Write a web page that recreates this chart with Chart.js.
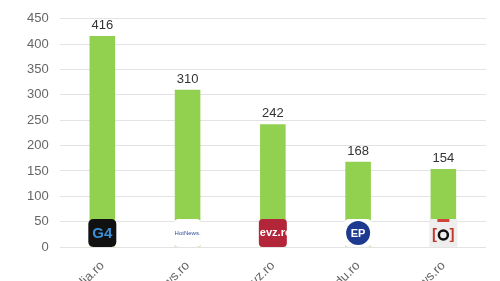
<!DOCTYPE html>
<html>
<head>
<meta charset="utf-8">
<script src="https://cdn.jsdelivr.net/npm/chart.js@4/dist/chart.umd.min.js"></script>
<style>
  html, body { margin: 0; padding: 0; background: #fff; overflow: hidden; }
  #wrap { width: 500px; height: 281px; position: relative; }
</style>
</head>
<body>
<div id="wrap"><canvas id="chart"></canvas></div>
<script>
var sites = ['g4media.ro', 'hotnews.ro', 'evz.ro', 'edupedu.ro', 'observatornews.ro'];
var counts = [416, 310, 242, 168, 154];
var yTicks = [0, 50, 100, 150, 200, 250, 300, 350, 400, 450];

function roundRect(ctx, x, y, w, h, r) {
    ctx.beginPath();
    ctx.moveTo(x + r, y);
    ctx.arcTo(x + w, y, x + w, y + h, r);
    ctx.arcTo(x + w, y + h, x, y + h, r);
    ctx.arcTo(x, y + h, x, y, r);
    ctx.arcTo(x, y, x + w, y, r);
    ctx.closePath();
}

// small drawn stand-ins for the site logos
var logoDrawers = [
    function (ctx, x, y, s) {
        ctx.fillStyle = '#111';
        roundRect(ctx, x, y, s, s, 5); ctx.fill();
        ctx.fillStyle = '#3a8fd8';
        ctx.font = 'bold 15px "Liberation Sans", Arial';
        ctx.textAlign = 'center'; ctx.textBaseline = 'middle';
        ctx.fillText('G4', x + s / 2, y + s / 2 + 1);
    },
    function (ctx, x, y, s) {
        ctx.fillStyle = '#fff';
        roundRect(ctx, x, y, s, s, 5); ctx.fill();
        ctx.fillStyle = '#2f4f9a';
        ctx.font = '6px "Liberation Sans", Arial';
        ctx.textAlign = 'center'; ctx.textBaseline = 'middle';
        ctx.fillText('HotNews.', x + s / 2, y + s / 2);
    },
    function (ctx, x, y, s) {
        ctx.fillStyle = '#b3263a';
        roundRect(ctx, x, y, s, s, 4); ctx.fill();
        ctx.save();
        ctx.beginPath(); ctx.rect(x, y, s, s); ctx.clip();
        ctx.fillStyle = '#fff';
        ctx.font = 'bold 11px "Liberation Sans", Arial';
        ctx.textAlign = 'left'; ctx.textBaseline = 'middle';
        ctx.fillText('evz.ro', x + 1, y + s / 2);
        ctx.restore();
    },
    function (ctx, x, y, s) {
        ctx.fillStyle = '#fff';
        roundRect(ctx, x, y, s, s, 5); ctx.fill();
        ctx.fillStyle = '#1d3a8f';
        ctx.beginPath(); ctx.arc(x + s / 2, y + s / 2, 12, 0, Math.PI * 2); ctx.fill();
        ctx.fillStyle = '#fff';
        ctx.font = 'bold 11px "Liberation Sans", Arial';
        ctx.textAlign = 'center'; ctx.textBaseline = 'middle';
        ctx.fillText('EP', x + s / 2, y + s / 2 + 1);
    },
    function (ctx, x, y, s) {
        ctx.fillStyle = '#eeeeee';
        ctx.fillRect(x, y, s, s);
        ctx.fillStyle = '#d0443a';
        ctx.fillRect(x + 8, y, s - 16, 3);
        ctx.fillStyle = '#c0392b';
        ctx.font = 'bold 15px "Liberation Sans", Arial';
        ctx.textAlign = 'center'; ctx.textBaseline = 'middle';
        ctx.fillText('[   ]', x + s / 2, y + s / 2 + 2);
        ctx.strokeStyle = '#111'; ctx.lineWidth = 2.5;
        ctx.beginPath(); ctx.arc(x + s / 2, y + s / 2 + 2, 4.5, 0, Math.PI * 2); ctx.stroke();
    }
];

var overlays = {
    id: 'overlays',
    afterDatasetsDraw: function (chart) {
        var ctx = chart.ctx;
        var meta = chart.getDatasetMeta(0);
        var yScale = chart.scales.y;
        var size = 28;
        meta.data.forEach(function (bar, i) {
            // value above each bar
            ctx.save();
            ctx.fillStyle = '#333';
            ctx.font = '13px "Liberation Sans", Arial';
            ctx.textAlign = 'center';
            ctx.textBaseline = 'bottom';
            ctx.fillText(String(counts[i]), bar.x, bar.y - 4);
            ctx.restore();
            // logo at the foot of the bar
            ctx.save();
            logoDrawers[i](ctx, bar.x - size / 2, yScale.getPixelForValue(0) - size, size);
            ctx.restore();
        });
    }
};

new Chart(document.getElementById('chart'), {
    type: 'bar',
    data: {
        labels: sites,
        datasets: [{
            data: counts,
            backgroundColor: '#92d050',
            borderWidth: 0,
            barPercentage: 0.6,
            categoryPercentage: 0.5
        }]
    },
    options: {
        responsive: true,
        maintainAspectRatio: false,
        animation: false,
        layout: { padding: { top: 12, right: 14, left: 16, bottom: 0 } },
        plugins: { legend: { display: false }, tooltip: { enabled: false } },
        scales: {
            x: {
                grid: { display: false },
                border: { display: false },
                ticks: {
                    color: '#666',
                    font: { family: '"Liberation Sans", Arial', size: 13 },
                    minRotation: 45,
                    maxRotation: 45,
                    padding: 3
                },
                afterFit: function (scale) { scale.height = 34; }
            },
            y: {
                min: 0,
                max: 450,
                grid: { color: '#e3e3e3', drawTicks: false },
                border: { display: false },
                afterBuildTicks: function (scale) {
                    scale.ticks = yTicks.map(function (v) { return { value: v }; });
                },
                ticks: {
                    color: '#666',
                    font: { family: '"Liberation Sans", Arial', size: 13 },
                    padding: 11
                }
            }
        }
    },
    plugins: [overlays]
});
</script>
</body>
</html>
